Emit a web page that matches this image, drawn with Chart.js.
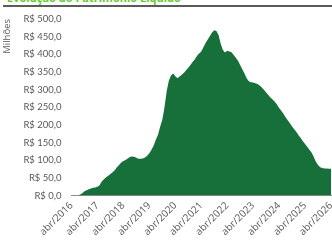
<!DOCTYPE html>
<html>
<head>
<meta charset="utf-8">
<script src="https://cdn.jsdelivr.net/npm/chart.js@4"></script>
<style>
    html, body { margin: 0; padding: 0; background: #fff; overflow: hidden; }
    #wrap { position: relative; width: 332px; height: 242px; }
    #titulo {
        position: absolute; left: 7px; top: -10px;
        font: bold 11px "Open Sans", sans-serif; color: #5fcb2b;
        white-space: nowrap;
    }
    #linha { position: absolute; left: 3px; top: 5px; width: 329px; height: 2px; background: #5a5a5a; }
    #box { position: absolute; left: 0; top: 0; width: 332px; height: 242px; }
</style>
</head>
<body>
<div id="wrap">
    <div id="titulo">Evolução do Patrimônio Líquido</div>
    <div id="linha"></div>
    <div id="box"><canvas id="plChart" width="332" height="242"></canvas></div>
</div>
<script>
// meses de abr/2016 a abr/2026
const meses = ["jan", "fev", "mar", "abr", "mai", "jun", "jul", "ago", "set", "out", "nov", "dez"];
const rotulos = [];
for (let i = 0; i <= 120; i++) {
    const m = (3 + i) % 12;
    const a = 2016 + Math.floor((3 + i) / 12);
    rotulos.push(meses[m] + "/" + a);
}

// patrimonio liquido mensal (R$ milhoes)
const patrimonio = [
    0, 0, 0, 0, 3, 7, 12, 15, 18, 20, 22, 23,
    25, 29, 40, 46, 52, 56, 61, 66, 72, 80, 87, 94,
    98, 101, 105, 109, 111, 110, 107, 104, 104, 105, 108, 113,
    120, 130, 142, 158, 172, 195, 215, 250, 295, 325, 340, 346,
    338, 332, 337, 342, 348, 355, 362, 370, 378, 385, 395, 402,
    408, 420, 432, 442, 452, 462, 468, 466, 455, 430, 412, 405,
    410, 408, 406, 398, 390, 382, 370, 358, 346, 332, 324, 321,
    320, 318, 316, 312, 306, 300, 292, 285, 278, 272, 266, 258,
    248, 240, 232, 222, 213, 205, 196, 188, 180, 171, 163, 154,
    146, 138, 130, 122, 110, 96, 87, 80, 78, 77, 77, 76,
    76
];

const yMin = 0;
const yMax = 500;
const yPasso = 50;

document.addEventListener("DOMContentLoaded", function () {
    const ctx = document.getElementById("plChart").getContext("2d");

    new Chart(ctx, {
        type: "line",
        data: {
            labels: rotulos,
            datasets: [
                {
                    label: "Patrimônio Líquido",
                    data: patrimonio,
                    backgroundColor: "#17703a",
                    borderColor: "#17703a",
                    borderWidth: 0,
                    pointRadius: 0,
                    tension: 0,
                    fill: "origin",
                },
            ],
        },
        options: {
            responsive: false,
            animation: false,
            layout: { padding: { top: 19, right: 1, left: 2, bottom: 0 } },
            plugins: {
                legend: { display: false },
                tooltip: { enabled: false },
            },
            scales: {
                x: {
                    afterFit: function (s) {
                        // o rotulo inclinado termina no tick, nao precisa de margem a direita
                        s.paddingRight = 0;
                    },
                    grid: { display: false, drawTicks: false },
                    border: { display: true, color: "#8c8c8c", width: 1 },
                    ticks: {
                        autoSkip: false,
                        maxRotation: 45,
                        minRotation: 45,
                        padding: 4,
                        color: "#595959",
                        font: { family: "Open Sans", size: 10 },
                        callback: function (v, i) {
                            return i % 12 === 0 ? rotulos[i] : "";
                        },
                    },
                },
                y: {
                    min: yMin,
                    max: yMax,
                    grid: { display: false, drawTicks: false },
                    border: { display: false },
                    title: {
                        display: true,
                        text: "Milhões",
                        align: "end",
                        color: "#595959",
                        font: { family: "Open Sans", size: 9.5 },
                        padding: { top: 0, bottom: 0 },
                    },
                    ticks: {
                        stepSize: yPasso,
                        padding: 10,
                        color: "#595959",
                        font: { family: "Lato", size: 9.5 },
                        callback: function (v) {
                            return "R$ " + v.toFixed(1).replace(".", ",");
                        },
                    },
                },
            },
        },
    });
});
</script>
</body>
</html>
